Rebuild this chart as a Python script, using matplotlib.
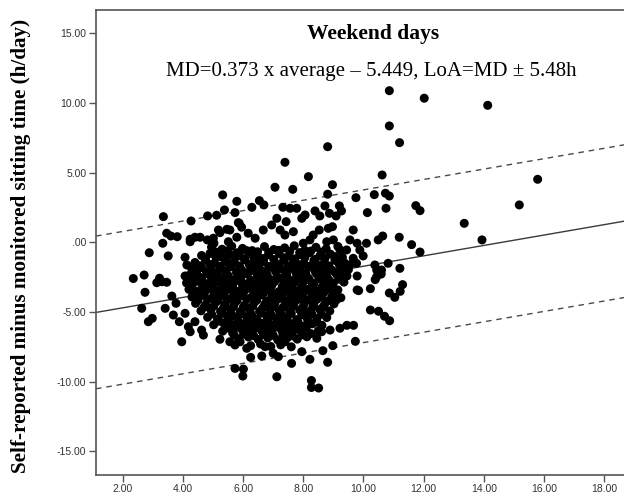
import numpy as np
import matplotlib
matplotlib.use("Agg")
import matplotlib.pyplot as plt

# readings: (average, difference) in h/day

upper_pts = [
    (10.86, 10.88), (12.02, 10.34), (14.13, 9.83), (10.86, 8.35), (11.20, 7.15),
    (8.81, 6.86), (7.39, 5.74), (10.62, 4.83), (15.79, 4.52), (8.17, 4.71),
    (8.97, 4.13), (7.06, 3.95), (7.65, 3.80), (8.81, 3.45), (9.75, 3.20),
    (10.36, 3.42), (10.73, 3.52), (10.86, 3.32), (15.18, 2.68), (11.74, 2.63),
    (11.88, 2.27), (10.75, 2.44), (10.13, 2.13), (13.35, 1.36), (13.94, 0.17),
    (11.19, 0.36), (11.60, -0.17), (11.88, -0.70),
    (5.32, 3.40), (5.79, 2.94), (6.54, 2.99), (6.69, 2.68), (6.29, 2.51),
    (3.35, 1.84), (4.27, 1.53), (4.82, 1.89), (5.12, 1.94), (5.38, 2.32),
    (5.73, 2.13), (5.84, 1.41), (5.95, 1.08), (3.46, 0.65), (3.60, 0.45),
    (3.81, 0.40), (3.33, -0.07), (2.88, -0.75), (3.51, -0.98), (4.07, -1.08),
    (4.13, -1.63), (4.24, 0.22), (4.40, 0.36), (4.57, 0.36), (4.81, 0.17),
    (5.03, -0.07), (5.23, 0.69), (5.46, 0.93), (5.56, 0.88), (5.51, 0.04),
    (5.79, 0.36), (6.17, 0.65), (6.40, 0.29), (6.67, 0.88), (6.95, 1.24),
    (7.12, 1.72), (7.32, 2.51), (7.56, 2.44), (7.78, 2.44), (7.43, 1.48),
    (7.67, 0.76), (8.72, 2.61), (9.20, 2.61), (9.27, 2.25), (9.09, 1.89),
    (8.87, 2.08), (8.55, 1.89), (8.39, 2.25), (7.95, 1.72), (8.06, 1.96),
    (8.53, 0.88), (8.83, 1.00), (8.97, 1.12), (9.66, 0.88), (10.64, 0.45),
    (10.49, 0.17), (10.10, -0.07), (9.55, 0.17), (9.79, -0.07), (9.44, -0.55),
    (9.22, -0.55), (9.00, 0.17), (9.88, -0.55), (9.99, -0.98), (9.66, -1.15),
    (9.55, -1.63), (9.27, -1.27), (9.05, -1.03), (9.77, -1.51), (10.82, -1.51),
    (11.21, -1.87), (10.38, -1.63), (10.44, -1.99), (8.33, 0.52), (8.22, 0.17),
    (8.00, -0.07), (8.78, 0.04), (7.23, 0.88), (7.39, 0.52), (4.24, 0.04),
    (5.01, 0.29), (5.18, 0.88), (5.87, 1.36),
]

right_pts = [
    (11.30, -3.04), (11.22, -3.52), (11.04, -3.95), (10.86, -3.64), (10.23, -3.33),
    (9.84, -3.47), (10.39, -2.68), (10.59, -2.28), (10.23, -4.86), (10.50, -4.95),
    (10.70, -5.31), (10.87, -5.63), (9.67, -5.96), (9.45, -5.96), (9.73, -7.11),
    (8.98, -7.42), (8.65, -7.78), (8.81, -8.61), (8.51, -10.46), (8.27, -10.42),
    (8.27, -9.92), (7.12, -9.65), (7.61, -8.69), (8.22, -8.40), (7.17, -8.21),
    (7.39, -7.14), (7.95, -7.85), (8.45, -6.89), (9.22, -6.17), (8.89, -6.30),
    (8.61, -6.42), (9.79, -3.42), (9.79, -2.42), (10.44, -2.47), (10.60, -1.99),
]

left_pts = [
    (2.35, -2.60), (2.71, -2.35), (3.22, -2.58), (4.07, -2.42), (2.74, -3.59),
    (3.13, -2.90), (3.30, -2.83), (3.46, -2.87), (3.63, -3.86), (2.63, -4.74),
    (2.85, -5.70), (2.98, -5.46), (3.41, -4.74), (3.68, -5.22), (3.77, -4.38),
    (3.88, -5.70), (3.96, -7.14), (4.07, -5.10), (4.18, -6.06), (4.24, -6.42),
    (4.40, -5.70), (4.62, -6.30), (4.68, -6.66), (5.23, -6.96), (5.56, -7.14),
    (5.73, -7.37), (5.73, -9.05), (6.01, -9.10), (5.99, -9.60), (6.25, -8.26),
    (6.62, -8.16), (7.00, -7.97), (6.12, -7.61), (5.90, -7.14), (6.73, -7.49),
]

# dense core, row by row
core_x = [
    [4.95, 5.3, 5.62, 5.98, 6.3, 6.71, 7.02, 7.38, 7.7, 8.05, 8.42, 8.76, 9.15],
    [5.1, 5.45, 5.8, 6.12, 6.48, 6.85, 7.18, 7.55, 7.88, 8.25, 8.6],
    [4.62, 4.9, 5.25, 5.55, 5.88, 6.2, 6.5, 6.85, 7.2, 7.52, 7.9, 8.2, 8.55, 8.9, 9.3],
    [4.75, 5.1, 5.42, 5.72, 6.05, 6.35, 6.68, 7.02, 7.38, 7.72, 8.05, 8.38, 8.72, 9.1],
    [4.4, 4.75, 5.05, 5.4, 5.7, 6.05, 6.38, 6.68, 7.05, 7.35, 7.68, 8.02, 8.35, 8.7, 9.05, 9.38],
    [4.55, 4.9, 5.22, 5.55, 5.88, 6.2, 6.52, 6.85, 7.2, 7.5, 7.85, 8.18, 8.5, 8.85, 9.2],
    [4.3, 4.62, 4.95, 5.28, 5.6, 5.95, 6.25, 6.6, 6.92, 7.25, 7.6, 7.92, 8.25, 8.6, 8.95, 9.28, 9.5],
    [4.45, 4.78, 5.1, 5.42, 5.78, 6.1, 6.42, 6.75, 7.08, 7.42, 7.75, 8.08, 8.4, 8.72, 9.05, 9.35],
    [4.22, 4.55, 4.85, 5.18, 5.5, 5.82, 6.15, 6.48, 6.8, 7.12, 7.45, 7.78, 8.1, 8.45, 8.78, 9.12, 9.45],
    [4.3, 4.62, 4.95, 5.28, 5.6, 5.92, 6.25, 6.58, 6.9, 7.25, 7.55, 7.88, 8.2, 8.52, 8.85, 9.2],
    [4.12, 4.45, 4.78, 5.1, 5.42, 5.75, 6.08, 6.4, 6.72, 7.05, 7.38, 7.7, 8.02, 8.35, 8.68, 9.0, 9.35],
    [4.3, 4.65, 4.98, 5.32, 5.65, 5.98, 6.3, 6.62, 6.95, 7.3, 7.62, 7.95, 8.3, 8.62, 8.95],
    [4.2, 4.52, 4.85, 5.2, 5.52, 5.85, 6.18, 6.5, 6.85, 7.18, 7.5, 7.82, 8.15, 8.48, 8.82, 9.15],
    [4.4, 4.72, 5.05, 5.38, 5.7, 6.02, 6.35, 6.68, 7.02, 7.35, 7.68, 8.0, 8.32, 8.68, 9.0],
    [4.3, 4.65, 4.98, 5.3, 5.62, 5.95, 6.28, 6.6, 6.95, 7.28, 7.6, 7.95, 8.28, 8.6, 8.95, 9.25],
    [4.5, 4.82, 5.15, 5.48, 5.8, 6.12, 6.45, 6.78, 7.12, 7.45, 7.78, 8.12, 8.45, 8.8, 9.1],
    [4.42, 4.75, 5.08, 5.4, 5.72, 6.05, 6.38, 6.72, 7.05, 7.38, 7.7, 8.02, 8.35, 8.7, 9.02],
    [4.7, 5.02, 5.35, 5.68, 6.0, 6.32, 6.65, 6.98, 7.32, 7.65, 7.98, 8.32, 8.65],
    [4.6, 4.92, 5.25, 5.58, 5.9, 6.22, 6.55, 6.88, 7.2, 7.55, 7.88, 8.2, 8.55, 8.88],
    [4.95, 5.3, 5.62, 5.95, 6.28, 6.6, 6.92, 7.28, 7.6, 7.95, 8.28, 8.6],
    [4.82, 5.15, 5.48, 5.8, 6.12, 6.45, 6.78, 7.1, 7.45, 7.78, 8.1, 8.45, 8.78],
    [5.2, 5.52, 5.85, 6.18, 6.5, 6.82, 7.15, 7.48, 7.82, 8.15, 8.45],
    [5.02, 5.35, 5.68, 6.0, 6.32, 6.65, 6.98, 7.3, 7.65, 7.98, 8.3, 8.62],
    [5.5, 5.82, 6.15, 6.48, 6.8, 7.12, 7.45, 7.78, 8.1],
    [5.32, 5.65, 5.98, 6.3, 6.62, 6.95, 7.28, 7.6, 7.92, 8.25, 8.5],
    [5.7, 6.02, 6.35, 6.68, 7.0, 7.32, 7.65, 7.98],
    [5.85, 6.18, 6.5, 6.82, 7.15, 7.48, 7.8, 8.12],
    [6.25, 6.58, 6.92, 7.25, 7.6],
]
core_y = [
    [-0.35, -0.5, -0.28, -0.44, -0.6, -0.31, -0.52, -0.4, -0.25, -0.58, -0.36, -0.47, -0.3],
    [-0.7, -0.62, -0.75, -0.6, -0.68, -0.72, -0.58, -0.66, -0.74, -0.63, -0.7],
    [-0.95, -0.8, -1.02, -0.86, -0.97, -0.78, -1.05, -0.9, -0.82, -1.0, -0.88, -0.75, -0.98, -0.85, -1.08],
    [-1.18, -1.1, -1.22, -1.14, -1.2, -1.08, -1.16, -1.24, -1.12, -1.19, -1.1, -1.23, -1.15, -1.2],
    [-1.45, -1.3, -1.5, -1.36, -1.42, -1.25, -1.55, -1.38, -1.48, -1.28, -1.4, -1.52, -1.33, -1.46, -1.3, -1.5],
    [-1.68, -1.6, -1.72, -1.63, -1.7, -1.58, -1.66, -1.74, -1.62, -1.69, -1.6, -1.73, -1.65, -1.7, -1.62],
    [-1.95, -1.82, -2.0, -1.88, -1.76, -1.98, -1.85, -2.02, -1.8, -1.93, -1.86, -2.05, -1.78, -1.9, -2.0, -1.84, -1.96],
    [-2.18, -2.12, -2.2, -2.1, -2.16, -2.22, -2.13, -2.19, -2.1, -2.2, -2.14, -2.18, -2.11, -2.21, -2.15, -2.17],
    [-2.35, -2.5, -2.3, -2.45, -2.38, -2.52, -2.28, -2.44, -2.36, -2.5, -2.32, -2.46, -2.4, -2.28, -2.48, -2.34, -2.42],
    [-2.66, -2.6, -2.7, -2.62, -2.68, -2.58, -2.72, -2.64, -2.69, -2.6, -2.71, -2.63, -2.67, -2.61, -2.7, -2.65],
    [-2.92, -2.8, -2.98, -2.85, -2.95, -2.78, -3.0, -2.86, -2.93, -2.82, -2.97, -2.88, -2.8, -2.96, -2.84, -2.92, -2.86],
    [-3.15, -3.1, -3.2, -3.12, -3.18, -3.08, -3.16, -3.22, -3.11, -3.19, -3.13, -3.17, -3.1, -3.21, -3.14],
    [-3.38, -3.5, -3.32, -3.45, -3.36, -3.52, -3.3, -3.44, -3.4, -3.55, -3.34, -3.47, -3.38, -3.5, -3.33, -3.42],
    [-3.66, -3.6, -3.7, -3.62, -3.68, -3.58, -3.72, -3.64, -3.69, -3.6, -3.71, -3.63, -3.67, -3.61, -3.7],
    [-3.92, -3.8, -3.97, -3.86, -4.0, -3.82, -3.94, -3.78, -3.9, -4.02, -3.85, -3.96, -3.8, -3.93, -3.87, -3.98],
    [-4.15, -4.1, -4.2, -4.12, -4.18, -4.08, -4.16, -4.22, -4.11, -4.19, -4.13, -4.17, -4.1, -4.21, -4.14],
    [-4.38, -4.5, -4.32, -4.46, -4.36, -4.52, -4.3, -4.44, -4.4, -4.55, -4.34, -4.47, -4.38, -4.5, -4.42],
    [-4.66, -4.6, -4.7, -4.62, -4.68, -4.58, -4.72, -4.64, -4.69, -4.6, -4.71, -4.63, -4.67],
    [-4.92, -4.8, -4.97, -4.86, -5.0, -4.83, -4.95, -4.78, -4.9, -5.02, -4.85, -4.96, -4.82, -4.93],
    [-5.15, -5.1, -5.2, -5.12, -5.18, -5.08, -5.16, -5.22, -5.11, -5.19, -5.13, -5.17],
    [-5.38, -5.5, -5.32, -5.45, -5.36, -5.52, -5.3, -5.44, -5.4, -5.55, -5.34, -5.47, -5.4],
    [-5.66, -5.6, -5.7, -5.62, -5.68, -5.58, -5.72, -5.64, -5.69, -5.6, -5.71],
    [-5.92, -5.8, -5.97, -5.86, -6.0, -5.83, -5.95, -5.78, -5.9, -6.02, -5.85, -5.96],
    [-6.15, -6.1, -6.2, -6.12, -6.18, -6.08, -6.16, -6.22, -6.11],
    [-6.38, -6.5, -6.32, -6.46, -6.36, -6.52, -6.3, -6.44, -6.4, -6.55, -6.34],
    [-6.66, -6.6, -6.7, -6.62, -6.68, -6.58, -6.72, -6.64],
    [-6.92, -6.8, -6.97, -6.86, -7.0, -6.83, -6.95, -6.78],
    [-7.42, -7.3, -7.48, -7.36, -7.5],
]

slope = 0.373
intercept = -5.449
loa = 5.48

xticks = [2, 4, 6, 8, 10, 12, 14, 16, 18]
xtick_labels = ["2.00", "4.00", "6.00", "8.00", "10.00", "12.00", "14.00", "16.00", "18.00"]
yticks = [15, 10, 5, 0, -5, -10, -15]
ytick_labels = ["15.00", "10.00", "5.00", ".00", "-5.00", "-10.00", "-15.00"]

# collect points
pts = upper_pts + right_pts + left_pts
avg = [p[0] for p in pts]
diff = [p[1] for p in pts]
for rx, ry in zip(core_x, core_y):
    avg += rx
    diff += ry

fig = plt.figure(figsize=(6.24, 4.96), dpi=100)
ax = fig.add_axes([96 / 624, 1 - 474.7 / 496, 1 - 96 / 624, (474.7 - 10) / 496])

xmin, xmax = 1.11, 18.66
ax.set_xlim(xmin, xmax)
ax.set_ylim(-16.68, 16.67)

ax.scatter(avg, diff, s=42, c="black", edgecolors="none", zorder=3)

xl = np.array([xmin, xmax])
md = slope * xl + intercept
ax.plot(xl, md, color="#3a3a3a", lw=1.0, zorder=2)
ax.plot(xl, md + loa, color="#4a4a4a", lw=1.0, ls=(0, (4, 3.5)), zorder=2)
ax.plot(xl, md - loa, color="#4a4a4a", lw=1.0, ls=(0, (4, 3.5)), zorder=2)

ax.set_xticks(xticks)
ax.set_xticklabels(xtick_labels)
ax.set_yticks(yticks)
ax.set_yticklabels(ytick_labels)
for lab in ax.get_xticklabels() + ax.get_yticklabels():
    lab.set_fontfamily("Liberation Sans")
    lab.set_fontsize(7.5)
    lab.set_color("#333333")
ax.tick_params(direction="out", length=5, width=1.0, color="#555555", pad=2)

ax.spines["right"].set_visible(False)
for s in ["left", "top", "bottom"]:
    ax.spines[s].set_color("#555555")
    ax.spines[s].set_linewidth(1.2)

fig.text(373 / 624, 1 - 39 / 496, "Weekend days", ha="center", va="baseline",
         fontfamily="Liberation Serif", fontweight="bold", fontsize=15.5)
fig.text(371 / 624, 1 - 76 / 496, "MD=0.373 x average \u2013 5.449, LoA=MD \u00b1 5.48h",
         ha="center", va="baseline", fontfamily="Liberation Serif", fontsize=15)
fig.text(21 / 624, 1 - 246 / 496, "Self-reported minus monitored sitting time (h/day)",
         rotation=90, ha="center", va="center",
         fontfamily="Liberation Serif", fontweight="bold", fontsize=15.2)

fig.savefig("out.png", dpi=100)
